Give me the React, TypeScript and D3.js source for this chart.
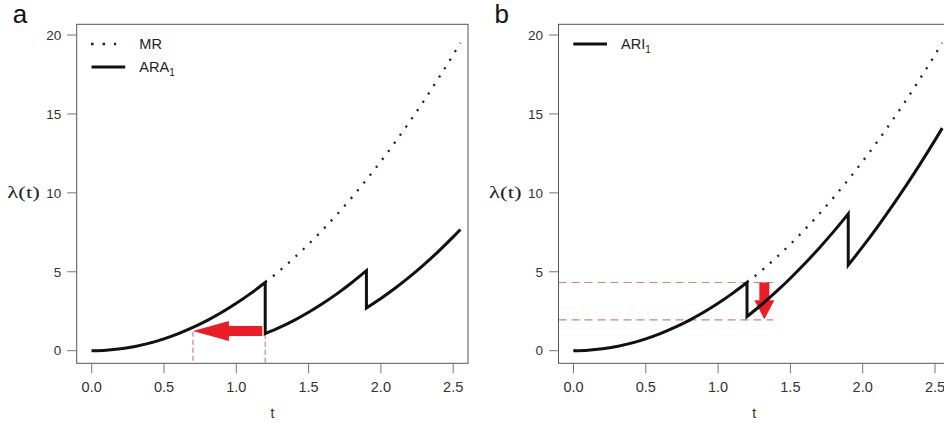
import React from "react";
import * as d3 from "d3";

// Time grid and baseline (minimal repair) intensity λ(t)
const mrT = [0, 0.1, 0.2, 0.3, 0.4, 0.5, 0.6, 0.7, 0.8, 0.9, 1.0, 1.1, 1.2, 1.3, 1.4, 1.5, 1.6, 1.7, 1.8, 1.9, 2.0, 2.1, 2.2, 2.3, 2.4, 2.5, 2.55];
const mrValues = [0, 0.03, 0.12, 0.27, 0.48, 0.75, 1.08, 1.47, 1.92, 2.43, 3.0, 3.63, 4.32, 5.07, 5.88, 6.75, 7.68, 8.67, 9.72, 10.83, 12.0, 13.23, 14.52, 15.87, 17.28, 18.75, 19.5];

// ARA1 intensity, one list per interval between maintenance actions
const ara1Seg1T = [0, 0.1, 0.2, 0.3, 0.4, 0.5, 0.6, 0.7, 0.8, 0.9, 1.0, 1.1, 1.2];
const ara1Seg1V = [0, 0.03, 0.12, 0.27, 0.48, 0.75, 1.08, 1.47, 1.92, 2.43, 3.0, 3.63, 4.32];
const ara1Seg2T = [1.2, 1.3, 1.4, 1.5, 1.6, 1.7, 1.8, 1.9];
const ara1Seg2V = [1.08, 1.47, 1.92, 2.43, 3.0, 3.63, 4.32, 5.07];
const ara1Seg3T = [1.9, 2.0, 2.1, 2.2, 2.3, 2.4, 2.5, 2.55];
const ara1Seg3V = [2.71, 3.31, 3.97, 4.69, 5.47, 6.31, 7.21, 7.68];

// ARI1 intensity, one list per interval
const ari1Seg1T = [0, 0.1, 0.2, 0.3, 0.4, 0.5, 0.6, 0.7, 0.8, 0.9, 1.0, 1.1, 1.2];
const ari1Seg1V = [0, 0.03, 0.12, 0.27, 0.48, 0.75, 1.08, 1.47, 1.92, 2.43, 3.0, 3.63, 4.32];
const ari1Seg2T = [1.2, 1.3, 1.4, 1.5, 1.6, 1.7, 1.8, 1.9];
const ari1Seg2V = [2.16, 2.91, 3.72, 4.59, 5.52, 6.51, 7.56, 8.67];
const ari1Seg3T = [1.9, 2.0, 2.1, 2.2, 2.3, 2.4, 2.5, 2.55];
const ari1Seg3V = [5.42, 6.59, 7.82, 9.11, 10.46, 11.87, 13.34, 14.1];

// Axis ticks
const xTicks = [0, 0.5, 1.0, 1.5, 2.0, 2.5];
const yTicks = [0, 5, 10, 15, 20];

// Annotation values (t, λ)
const araArrow = { tFrom: 1.18, tTo: 0.7, lambda: 1.25 };
const araGuides = [
  { t: 0.7, lambda: 1.2 },
  { t: 1.2, lambda: 1.08 },
];
const ariGuides = [4.32, 1.95];
const ariGuideEnd = 1.38;
const ariArrow = { t: 1.32, from: 4.32, to: 1.99 };

const W = 944;
const H = 423;
const BOX_TOP = 24.3;
const BOX_BOTTOM = 363.3;
const BOX_W = 391.3;
const X_DOMAIN: [number, number] = [-0.1037, 2.6024];
const Y_DOMAIN: [number, number] = [-0.8, 20.68];

const pairs = (ts: number[], vs: number[]) => ts.map((t, i) => [t, vs[i]] as [number, number]);

const AXIS_FONT = "'Liberation Sans', Arial, Helvetica, sans-serif";

type Legend = { label: string; sub?: string; dotted: boolean };

function Panel({
  left,
  letter,
  segments,
  legend,
  children,
}: {
  left: number;
  letter: string;
  segments: [number, number][][];
  legend: Legend[];
  children?: (x: d3.ScaleLinear<number, number>, y: d3.ScaleLinear<number, number>) => React.ReactNode;
}) {
  const x = d3.scaleLinear().domain(X_DOMAIN).range([left, left + BOX_W]);
  const y = d3.scaleLinear().domain(Y_DOMAIN).range([BOX_BOTTOM, BOX_TOP]);
  const line = d3
    .line<[number, number]>()
    .x((d) => x(d[0]))
    .y((d) => y(d[1]))
    .curve(d3.curveMonotoneX);

  // One continuous path: each interval is a smooth piece, joined by vertical drops
  const solidPath = segments
    .map((seg, i) => {
      const p = line(seg) || "";
      return i === 0 ? p : "L" + p.slice(1);
    })
    .join("");
  const mrPath = line(pairs(mrT, mrValues)) || "";

  return (
    <g>
      {/* panel letter */}
      <text x={left - 64} y={23.3} fontFamily={AXIS_FONT} fontSize={26} fill="#111">
        {letter}
      </text>
      {/* y-axis title */}
      <text
        x={left - 69.4}
        y={197.5}
        fontFamily="'Liberation Serif', 'Times New Roman', serif"
        fontSize={17}
        fontWeight={400}
        fill="#222"
        textLength={32.5}
        lengthAdjust="spacingAndGlyphs"
      >
        λ(t)
      </text>
      {/* x-axis title */}
      <text x={left + BOX_W / 2} y={418.3} textAnchor="middle" fontFamily={AXIS_FONT} fontSize={14} fill="#333">
        t
      </text>

      {/* y axis */}
      {yTicks.map((v) => (
        <g key={"y" + v}>
          <line x1={left - 9.5} x2={left} y1={y(v)} y2={y(v)} stroke="#777" strokeWidth={1} />
          <text x={left - 15.5} y={y(v) + 4.8} textAnchor="end" fontFamily={AXIS_FONT} fontSize={13.5} fill="#333">
            {v}
          </text>
        </g>
      ))}
      {/* x axis */}
      {xTicks.map((v) => (
        <g key={"x" + v}>
          <line x1={x(v)} x2={x(v)} y1={BOX_BOTTOM} y2={BOX_BOTTOM + 10} stroke="#777" strokeWidth={1} />
          <text x={x(v)} y={391.8} textAnchor="middle" fontFamily={AXIS_FONT} fontSize={14.5} fill="#333">
            {d3.format(".1f")(v)}
          </text>
        </g>
      ))}

      {children && children(x, y)}

      {/* minimal repair intensity */}
      <path d={mrPath} fill="none" stroke="#222" strokeWidth={2.3} strokeDasharray="2.1 7.9" />
      {/* imperfect maintenance intensity */}
      <path d={solidPath} fill="none" stroke="#111" strokeWidth={3} strokeLinejoin="miter" />

      {/* legend */}
      {legend.map((item, i) => {
        const ly = 44 + i * 23;
        return (
          <g key={item.label}>
            {item.dotted ? (
              <line x1={left + 14.3} x2={left + 39.5} y1={ly} y2={ly} stroke="#222" strokeWidth={2.6} strokeDasharray="2.6 8.9" />
            ) : (
              <line x1={left + 14.8} x2={left + 48.5} y1={ly} y2={ly} stroke="#111" strokeWidth={3} />
            )}
            <text x={left + 62.6} y={ly + 5} fontFamily={AXIS_FONT} fontSize={14.5} fill="#222">
              {item.label}
              {item.sub && (
                <tspan fontSize={10} dy={4}>
                  {item.sub}
                </tspan>
              )}
            </text>
          </g>
        );
      })}

      {/* plot box */}
      <rect x={left} y={BOX_TOP} width={BOX_W} height={BOX_BOTTOM - BOX_TOP} fill="none" stroke="#555" strokeWidth={1} />
    </g>
  );
}

export default function App() {
  const araSegments = [pairs(ara1Seg1T, ara1Seg1V), pairs(ara1Seg2T, ara1Seg2V), pairs(ara1Seg3T, ara1Seg3V)];
  const ariSegments = [pairs(ari1Seg1T, ari1Seg1V), pairs(ari1Seg2T, ari1Seg2V), pairs(ari1Seg3T, ari1Seg3V)];
  const red = "#ec1c24";
  const guide = "#dc7f80";

  return (
    <>
      <style>{`body{margin:0;background:#fff}`}</style>
      <svg width={W} height={H} style={{ display: "block", background: "#fff" }}>
        <Panel
          left={76.7}
          letter="a"
          segments={araSegments}
          legend={[
            { label: "MR", dotted: true },
            { label: "ARA", sub: "1", dotted: false },
          ]}
        >
          {(x, y) => {
            const ay = y(araArrow.lambda);
            const tip = x(araArrow.tTo);
            const tail = x(araArrow.tFrom);
            const headBase = tip + 36;
            const arrow = [
              [tip, ay],
              [headBase, ay - 10],
              [headBase, ay - 5],
              [tail, ay - 5],
              [tail, ay + 5],
              [headBase, ay + 5],
              [headBase, ay + 10],
            ];
            return (
              <g>
                {araGuides.map((g) => (
                  <line
                    key={g.t}
                    x1={x(g.t)}
                    x2={x(g.t)}
                    y1={y(g.lambda)}
                    y2={BOX_BOTTOM}
                    stroke={guide}
                    strokeWidth={1.2}
                    strokeDasharray="5 3"
                  />
                ))}
                <polygon points={arrow.map((p) => p.join(",")).join(" ")} fill={red} />
              </g>
            );
          }}
        </Panel>
        <Panel left={558.5} letter="b" segments={ariSegments} legend={[{ label: "ARI", sub: "1", dotted: false }]}>
          {(x, y) => {
            const ax = x(ariArrow.t);
            const top = y(ariArrow.from);
            const tip = y(ariArrow.to);
            const headBase = tip - 19;
            const arrow = [
              [ax, tip],
              [ax - 10, headBase],
              [ax - 5, headBase],
              [ax - 5, top],
              [ax + 5, top],
              [ax + 5, headBase],
              [ax + 10, headBase],
            ];
            return (
              <g>
                {ariGuides.map((v) => (
                  <line
                    key={v}
                    x1={x(X_DOMAIN[0])}
                    x2={x(ariGuideEnd)}
                    y1={y(v)}
                    y2={y(v)}
                    stroke={guide}
                    strokeWidth={1.2}
                    strokeDasharray="8 5"
                  />
                ))}
                <polygon points={arrow.map((p) => p.join(",")).join(" ")} fill={red} />
              </g>
            );
          }}
        </Panel>
      </svg>
    </>
  );
}
